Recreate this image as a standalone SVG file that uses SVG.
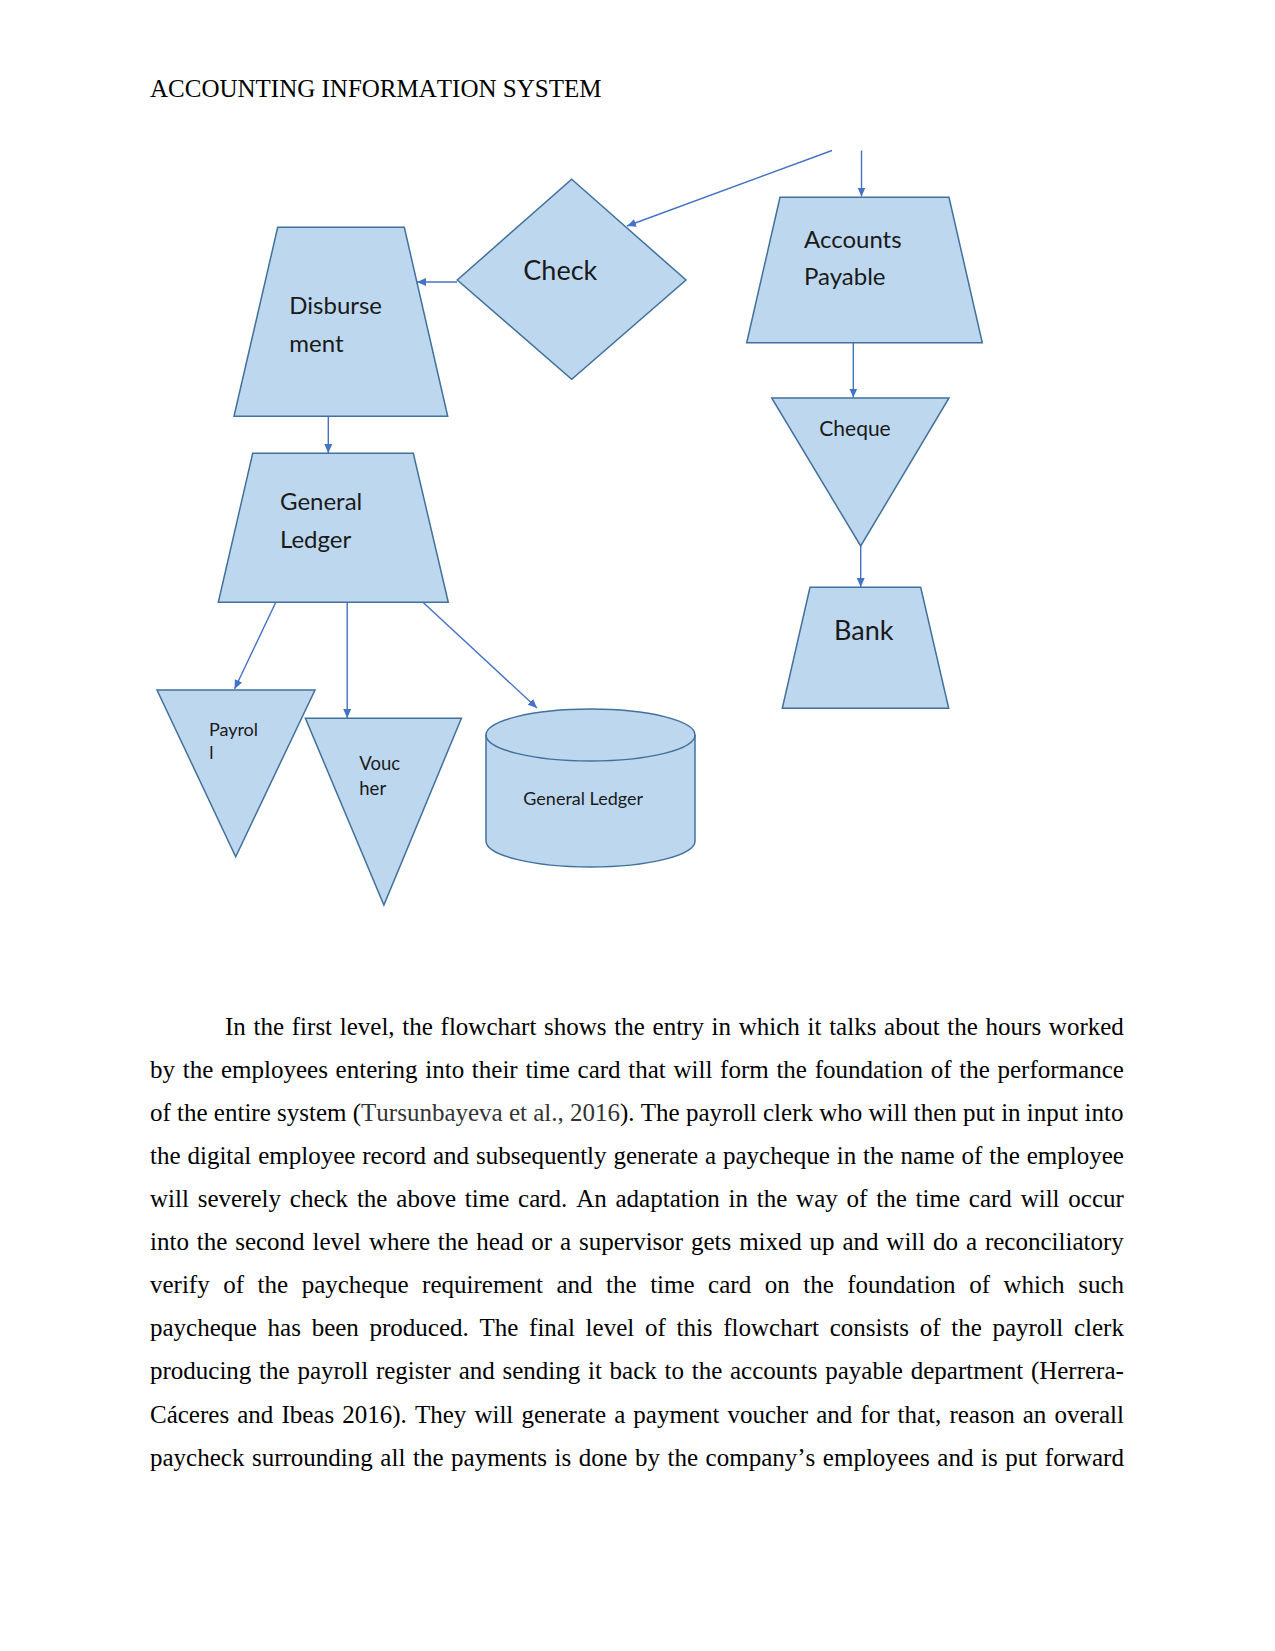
<svg xmlns="http://www.w3.org/2000/svg" width="1275" height="1651" viewBox="0 0 1275 1651">
<style>
.shape{fill:#bdd7ee;stroke:#41719c;stroke-width:1.5;stroke-linejoin:miter}
.conn{fill:none;stroke:#4472c4;stroke-width:1.4}
.lbl{font-family:Lato,"Open Sans",sans-serif;fill:#1a1a1a}
.body{font-family:"Liberation Serif","Times New Roman",serif;font-size:25px;fill:#000;font-kerning:none}
</style>
<defs>
<marker id="ah" markerUnits="userSpaceOnUse" markerWidth="10" markerHeight="10" viewBox="0 0 10 10" refX="9" refY="5" orient="auto">
<path d="M0,1 L9,5 L0,9 Z" fill="#4472c4"/>
</marker>
</defs>
<rect width="1275" height="1651" fill="#fff"/>
<text x="150" y="97" class="body">ACCOUNTING INFORMATION SYSTEM</text>

<g id="connectors">
<line class="conn" x1="832" y1="150.5" x2="627" y2="226" marker-end="url(#ah)"/>
<line class="conn" x1="861.5" y1="150.5" x2="861.5" y2="196.5" marker-end="url(#ah)"/>
<line class="conn" x1="457" y1="282" x2="417" y2="282" marker-end="url(#ah)"/>
<line class="conn" x1="328.3" y1="416.5" x2="328.3" y2="453" marker-end="url(#ah)"/>
<line class="conn" x1="275.7" y1="602.5" x2="234.6" y2="689" marker-end="url(#ah)"/>
<line class="conn" x1="347.2" y1="602.5" x2="347.2" y2="718" marker-end="url(#ah)"/>
<line class="conn" x1="423.2" y1="602.5" x2="537" y2="708" marker-end="url(#ah)"/>
<line class="conn" x1="853.3" y1="343" x2="853.3" y2="397.5" marker-end="url(#ah)"/>
<line class="conn" x1="860.7" y1="546" x2="860.7" y2="587" marker-end="url(#ah)"/>
</g>

<g id="check">
<polygon class="shape" points="571.7,179.3 686,280 571.7,379.3 457.3,280"/>
<text class="lbl" x="523.3" y="280" font-size="27">Check</text>
</g>
<g id="disbursement">
<polygon class="shape" points="277.7,227.3 404.3,227.3 447.7,416.3 234,416.3"/>
<text class="lbl" x="289.3" y="314" font-size="24">Disburse</text>
<text class="lbl" x="289.3" y="351.7" font-size="24">ment</text>
</g>
<g id="accounts-payable">
<polygon class="shape" points="780,197.3 949,197.3 982.3,342.8 746.7,342.8"/>
<text class="lbl" x="804" y="248.3" font-size="24">Accounts</text>
<text class="lbl" x="804" y="285" font-size="24">Payable</text>
</g>
<g id="cheque">
<polygon class="shape" points="771.7,398 949,398 860.7,546"/>
<text class="lbl" x="819.3" y="436" font-size="21">Cheque</text>
</g>
<g id="bank">
<polygon class="shape" points="810,587.3 920.7,587.3 948.7,708.3 782.3,708.3"/>
<text class="lbl" x="834" y="639.5" font-size="27">Bank</text>
</g>
<g id="general-ledger">
<polygon class="shape" points="252.7,453.3 413.3,453.3 448.3,602.3 218.3,602.3"/>
<text class="lbl" x="280" y="510" font-size="24">General</text>
<text class="lbl" x="280" y="548.3" font-size="24">Ledger</text>
</g>
<g id="payroll">
<polygon class="shape" points="157,690 315,690 235.7,856.7"/>
<text class="lbl" x="208.9" y="736" font-size="18">Payrol</text>
<text class="lbl" x="209.3" y="759" font-size="18">l</text>
</g>
<g id="voucher">
<polygon class="shape" points="305.4,718.3 461.4,718.3 383.9,905"/>
<text class="lbl" x="359.3" y="770" font-size="18.5">Vouc</text>
<text class="lbl" x="359.3" y="795.3" font-size="18.5">her</text>
</g>
<g id="general-ledger-db">
<path class="shape" d="M486,735 A104.5,26 0 0 1 695,735 L695,841 A104.5,26 0 0 1 486,841 Z"/>
<path class="shape" style="fill:none" d="M486,735 A104.5,26 0 0 0 695,735"/>
<text class="lbl" x="523.3" y="805" font-size="18">General Ledger</text>
</g>

<g id="body-text">
<text class="body" x="225" y="1035" word-spacing="1.46">In the first level, the flowchart shows the entry in which it talks about the hours worked</text>
<text class="body" x="150" y="1078" word-spacing="1.47">by the employees entering into their time card that will form the foundation of the performance</text>
<text class="body" x="150" y="1121.1" word-spacing="0">of the entire system (<tspan fill="#333">Tursunbayeva et al., 2016</tspan>). The payroll clerk who will then put in input into</text>
<text class="body" x="150" y="1164.2" word-spacing="0.64">the digital employee record and subsequently generate a paycheque in the name of the employee</text>
<text class="body" x="150" y="1207.2" word-spacing="2.57">will severely check the above time card. An adaptation in the way of the time card will occur</text>
<text class="body" x="150" y="1250.3" word-spacing="1.62">into the second level where the head or a supervisor gets mixed up and will do a reconciliatory</text>
<text class="body" x="150" y="1293.3" word-spacing="7.29">verify of the paycheque requirement and the time card on the foundation of which such</text>
<text class="body" x="150" y="1336.4" word-spacing="4.46">paycheque has been produced. The final level of this flowchart consists of the payroll clerk</text>
<text class="body" x="150" y="1379.4" word-spacing="1.49">producing the payroll register and sending it back to the accounts payable department (Herrera-</text>
<text class="body" x="150" y="1422.5" word-spacing="1.85">Cáceres and Ibeas 2016). They will generate a payment voucher and for that, reason an overall</text>
<text class="body" x="150" y="1465.5" word-spacing="1.33">paycheck surrounding all the payments is done by the company’s employees and is put forward</text>
</g>
</svg>
